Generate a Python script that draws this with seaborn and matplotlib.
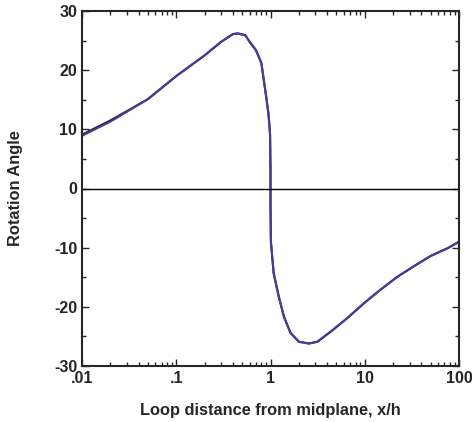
import matplotlib
matplotlib.use("Agg")
import matplotlib.pyplot as plt
import matplotlib.ticker as mticker
import seaborn as sns
import pandas as pd
import numpy as np

x_vals = [0.01, 0.02, 0.05, 0.1, 0.2, 0.3, 0.4, 0.45, 0.54, 0.6, 0.7, 0.8, 0.9, 0.95, 0.97, 0.99, 1.0,
          1.0, 1.01, 1.08, 1.225, 1.39, 1.63, 2.0, 2.56, 3.14, 4.35, 6.53, 9.8, 14.7, 22.3, 33.5, 50, 75.6, 100]
purple_y = [8.9, 11.3, 15.1, 19.0, 22.5, 24.8, 26.1, 26.2, 25.9, 24.8, 23.4, 21.2, 15.5, 12.7, 11.0, 9.0, 3.0,
            -3.0, -9.0, -14.3, -18.3, -21.7, -24.4, -25.9, -26.2, -25.9, -24.2, -21.9, -19.4, -17.1, -14.9, -13.1, -11.4, -10.1, -9.0]
black_y = [9.1, 11.5, 15.1, 19.0, 22.5, 24.8, 26.1, 26.2, 25.9, 24.8, 23.4, 21.2, 15.5, 12.7, 11.0, 9.0, 3.0,
           -3.0, -9.0, -14.3, -18.3, -21.7, -24.4, -25.9, -26.2, -25.9, -24.2, -21.9, -19.4, -17.1, -14.9, -13.1, -11.4, -10.1, -9.0]

x_ticks = [0.01, 0.1, 1, 10, 100]
x_ticklabels = [".01", ".1", "1", "10", "100"]
y_ticks = [-30, -20, -10, 0, 10, 20, 30]

sns.set_style("ticks")
plt.rcParams['font.family'] = ['Liberation Sans', 'DejaVu Sans']
plt.rcParams['font.weight'] = 'bold'

fig = plt.figure(figsize=(4.72, 4.22), dpi=100)
ax = fig.add_axes([82/472, 1-366/422, (459-82)/472, (366-11)/422])

df = pd.DataFrame({"x": x_vals + x_vals,
                   "y": black_y + purple_y,
                   "s": ["black"] * len(x_vals) + ["purple"] * len(x_vals)})
sns.lineplot(data=df, x="x", y="y", hue="s", palette={"black": "#222222", "purple": "#4a3a9c"},
             sort=False, estimator=None, units="s", lw=1.5, legend=False, ax=ax)

ax.axhline(0, color="black", lw=1)
ax.set_xscale("log")
ax.set_xlim(0.01, 100)
ax.set_ylim(-30, 30)
ax.set_xticks(x_ticks)
ax.set_xticklabels(x_ticklabels)
ax.xaxis.set_minor_locator(mticker.LogLocator(base=10, subs=np.arange(2, 10), numticks=20))
ax.xaxis.set_minor_formatter(mticker.NullFormatter())
ax.set_yticks(y_ticks)
ax.set_yticklabels([str(v) for v in y_ticks])
ax.yaxis.set_minor_locator(mticker.MultipleLocator(5))

ax.tick_params(which="both", direction="in", top=True, right=True, labelsize=11.5, width=1)
ax.tick_params(which="major", length=5)
ax.tick_params(which="minor", length=3)
for lab in ax.get_xticklabels() + ax.get_yticklabels():
    lab.set_fontweight("bold")
for sp in ax.spines.values():
    sp.set_linewidth(1.5)

ax.set_xlabel("Loop distance from midplane, x/h", fontsize=11.8, fontweight="bold", labelpad=12)
ax.set_ylabel("Rotation Angle", fontsize=11.8, fontweight="bold", labelpad=22)

fig.savefig("out.png", dpi=100)
